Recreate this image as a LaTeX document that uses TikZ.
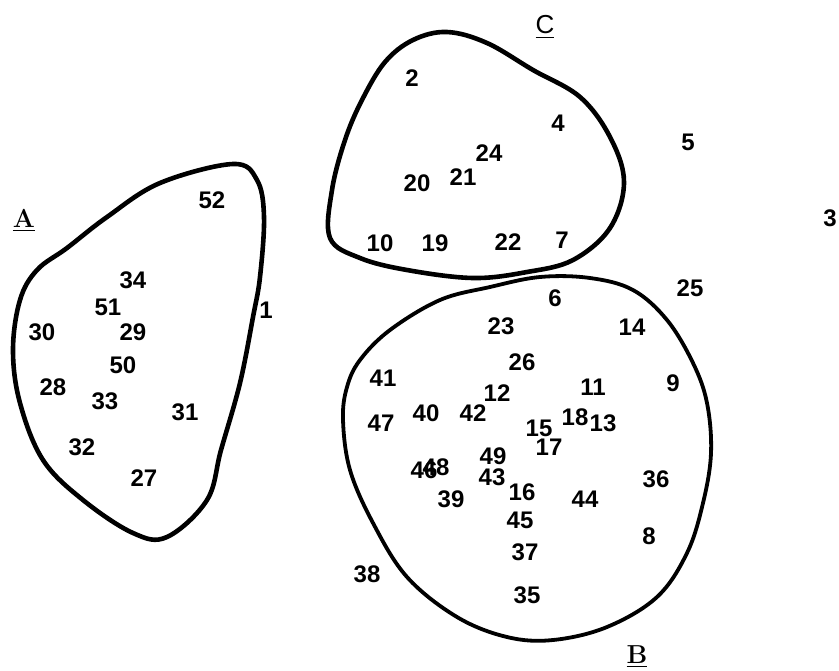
\documentclass[tikz,border=0pt]{standalone}
\usepackage{fontspec}
\setsansfont{Liberation Sans}
\usepackage{tikz}
\begin{document}
\begin{tikzpicture}[x=0.5pt,y=-0.5pt,
  num/.style={font=\sffamily\bfseries\fontsize{12}{12}\selectfont,inner sep=0pt},
  grp/.style={font=\bfseries\fontsize{13}{13}\selectfont,inner sep=0pt},
  blob/.style={line width=2.3pt,line join=round}]
  \useasboundingbox (0,0) rectangle (839,670);
  % cluster outlines
  \draw[blob] plot[smooth cycle,tension=0.6] coordinates {
    (160,183) (233,164) (257,180) (264,217) (260,277) (253,317) (240,383)
    (221,450) (207,500) (167,537) (133,533) (83,500) (43,460) (20,403)
    (13,350) (20,300) (37,270) (67,248) (107,217)};
  \draw[blob] plot[smooth cycle,tension=0.6] coordinates {
    (447,32) (487,43) (533,70) (580,97) (610,137) (624,182) (610,228)
    (573,260) (527,272) (473,278) (407,270) (360,258) (330,238) (332,190)
    (345,140) (362,100) (385,62) (413,40)};
  \draw[blob,line width=1.9pt] plot[smooth cycle,tension=0.6] coordinates {
    (540,277) (590,278) (633,290) (667,320) (693,363) (707,403) (711,453)
    (703,503) (687,553) (657,597) (607,627) (553,640) (507,637) (457,617)
    (407,577) (373,523) (350,470) (343,420) (347,387) (360,360) (390,330)
    (440,300) (490,287)};
  % group labels
  \node[grp] (lblA) at (24,220) {\underline{A}};
  \node[grp] (lblB) at (637,657) {\underline{B}};
  \node[grp,font=\sffamily\fontsize{13}{13}\selectfont] (lblC) at (545,27) {\underline{C}};
  % group A
  \foreach \lab/\px/\py in {52/212/200,34/133/280,51/108/307,30/42/332,
      29/133/332,50/123/365,28/53/387,33/105/401,31/185/412,32/82/447,
      27/144/478,1/266/310}
    \node[num] (n\lab) at (\px,\py) {\lab};
  % group C
  \foreach \lab/\px/\py in {2/412/78,4/558/123,24/489/153,21/463/177,
      20/417/183,10/380/243,19/435/243,22/508/242,7/562/240}
    \node[num] (n\lab) at (\px,\py) {\lab};
  % group B
  \foreach \lab/\px/\py in {6/555/298,23/501/326,14/632/327,26/522/362,
      41/383/378,9/673/383,11/593/387,12/497/393,40/426/413,42/473/413,
      47/381/423,18/575/417,13/603/423,15/539/428,17/549/447,49/493/456,
      46/424/470,48/436/467,43/492/477,36/656/479,16/522/492,44/585/499,
      39/451/499,45/520/520,8/649/536,37/525/552,35/527/595}
    \node[num] (n\lab) at (\px,\py) {\lab};
  % outside
  \foreach \lab/\px/\py in {5/688/142,25/690/288,38/367/574,3/830/218}
    \node[num] (n\lab) at (\px,\py) {\lab};
\end{tikzpicture}
\end{document}
